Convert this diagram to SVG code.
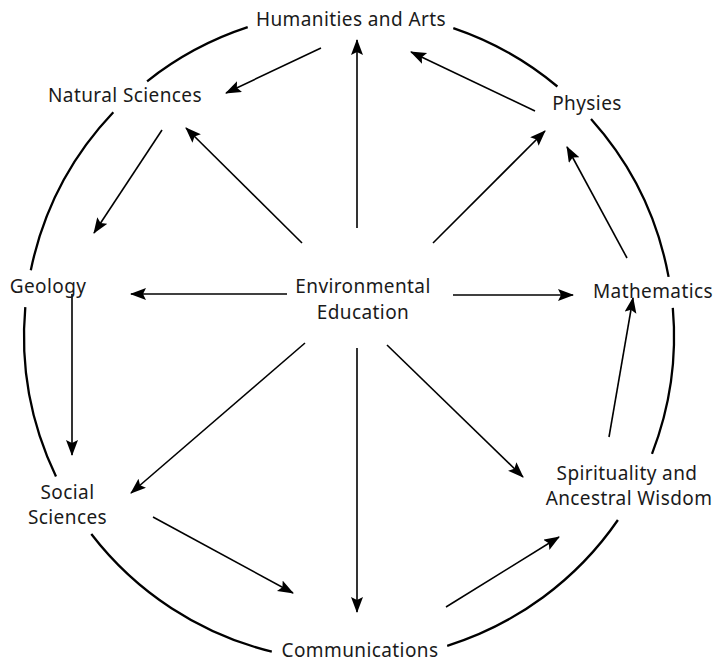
<svg xmlns="http://www.w3.org/2000/svg" width="716" height="664" viewBox="0 0 716 664">
<style>
.lbl{font-family:"Noto Sans","Open Sans","DejaVu Sans",sans-serif;font-size:19px;letter-spacing:0.4px;fill:#1a1a1a;text-anchor:middle}
.ring{fill:none;stroke:#000;stroke-width:2.3}
.arr{fill:none;stroke:#000;stroke-width:1.6;marker-end:url(#ah)}
</style>
<defs>
<marker id="ah" markerUnits="userSpaceOnUse" markerWidth="18" markerHeight="14" refX="15" refY="6" orient="auto">
<path d="M0,0 L16,6 L0,12 L3,6 z" fill="#000"/>
</marker>
</defs>
<rect width="716" height="664" fill="#fff"/>
<g id="ring">
<path class="ring" d="M147.1,81.3 A325,325 0 0 1 247.7,27.2"/>
<path class="ring" d="M30.8,270.2 A325,325 0 0 1 113.3,112.3"/>
<path class="ring" d="M56,476.5 A325,325 0 0 1 25.3,307.2"/>
<path class="ring" d="M271.8,651.7 A325,325 0 0 1 91.3,534"/>
<path class="ring" d="M617.9,520 A325,325 0 0 1 447.2,645.8"/>
<path class="ring" d="M672.8,307.9 A325,325 0 0 1 652,453.8"/>
<path class="ring" d="M591,119.1 A325,325 0 0 1 668.6,276.9"/>
<path class="ring" d="M453.3,28.1 A325,325 0 0 1 557.4,86.5"/>
</g>
<g id="connectors">
<line class="arr" x1="321" y1="48" x2="226" y2="93"/>
<line class="arr" x1="357" y1="228" x2="357" y2="40"/>
<line class="arr" x1="535" y1="111" x2="411" y2="52"/>
<line class="arr" x1="162" y1="130" x2="94" y2="233"/>
<line class="arr" x1="302" y1="243" x2="186" y2="128"/>
<line class="arr" x1="287" y1="294" x2="131" y2="294"/>
<line class="arr" x1="433" y1="243" x2="545" y2="131"/>
<line class="arr" x1="627" y1="258" x2="567" y2="147"/>
<line class="arr" x1="453" y1="295" x2="573" y2="295"/>
<line class="arr" x1="72" y1="294" x2="72" y2="455"/>
<line class="arr" x1="305" y1="343" x2="131" y2="493"/>
<line class="arr" x1="357" y1="348" x2="357" y2="612"/>
<line class="arr" x1="153" y1="517" x2="293" y2="593"/>
<line class="arr" x1="387" y1="345" x2="523" y2="477"/>
<line class="arr" x1="446" y1="607" x2="559" y2="537"/>
<line class="arr" x1="609" y1="437" x2="633" y2="298"/>
</g>
<g id="humanities"><text class="lbl" x="351" y="26">Humanities and Arts</text></g>
<g id="natural-sciences"><text class="lbl" x="125" y="102">Natural Sciences</text></g>
<g id="geology"><text class="lbl" x="48" y="293">Geology</text></g>
<g id="physies"><text class="lbl" x="587" y="110">Physies</text></g>
<g id="mathematics"><text class="lbl" x="653" y="298">Mathematics</text></g>
<g id="social-sciences"><text class="lbl" x="67.5" y="499">Social</text><text class="lbl" x="67.5" y="524">Sciences</text></g>
<g id="communications"><text class="lbl" x="360" y="657">Communications</text></g>
<g id="spirituality"><text class="lbl" x="627" y="480">Spirituality and</text><text class="lbl" x="629" y="505">Ancestral Wisdom</text></g>
<g id="environmental-education"><text class="lbl" x="363" y="293">Environmental</text><text class="lbl" x="363" y="319">Education</text></g>
</svg>
